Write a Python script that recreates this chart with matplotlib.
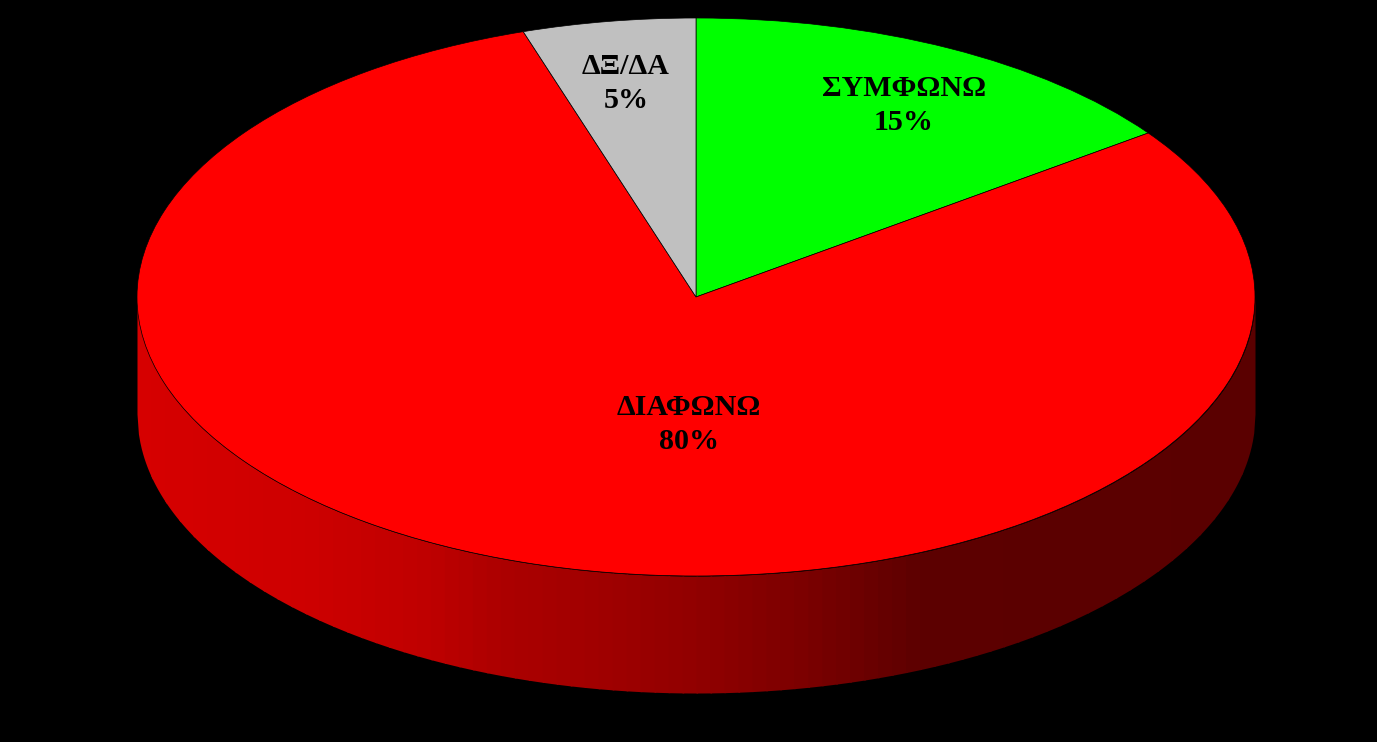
import numpy as np
import matplotlib
matplotlib.use('Agg')
import matplotlib.pyplot as plt

categories = ['ΣΥΜΦΩΝΩ', 'ΔΙΑΦΩΝΩ', 'ΔΞ/ΔΑ']
shares = [15, 80, 5]
slice_colors = ['#00ff00', '#ff0000', '#c0c0c0']

# geometry of the tilted disc, in pixels of the reference
W, H = 1377, 742
CX, CY = 696, 297
RX, RY = 559, 279
DEPTH = 117

plt.rcParams['font.family'] = ['Liberation Serif', 'DejaVu Serif']

fig = plt.figure(figsize=(W / 100, H / 100), dpi=100, facecolor='black')
ax = fig.add_axes([0, 0, 1, 1], facecolor='black')

# side wall: vertical bands getting darker towards the right
wall_x = [137, 300, 420, 500, 600, 700, 800, 867, 920, 1255]
wall_r = [214, 206, 192, 172, 160, 144, 124, 106, 92, 90]
edges = np.linspace(-1.0, 1.0, 81)
for left, right in zip(edges[:-1], edges[1:]):
    xs = np.linspace(left, min(right + 0.003, 1.0), 12)
    top = -np.sqrt(np.clip(1 - xs ** 2, 0, None))
    px = CX + (left + right) / 2 * RX
    r = np.interp(px, wall_x, wall_r) / 255
    ax.fill_between(xs, top, top - DEPTH / RY, color=(r, 0, 0), lw=0, zorder=1)

wedges, _ = ax.pie(shares, colors=slice_colors, startangle=90, counterclock=False,
                   radius=1.0, wedgeprops=dict(edgecolor='black', linewidth=0.5))
for w in wedges:
    w.set_zorder(2)

ax.set_aspect('auto')
ax.set_xlim(-CX / RX, (W - CX) / RX)
ax.set_ylim((CY - H) / RY, CY / RY)
ax.axis('off')


def put_label(name, share, px, py):
    ax.text((px - CX) / RX, (CY - py) / RY, f'{name}\n{share}%', ha='center', va='center',
            fontsize=21.6, fontweight='bold', color='black', linespacing=1.34, zorder=3)


put_label(categories[0], shares[0], 904, 105.5)
put_label(categories[1], shares[1], 689, 424.5)
put_label(categories[2], shares[2], 626, 83.5)

fig.savefig('out.png', dpi=100, facecolor='black')
